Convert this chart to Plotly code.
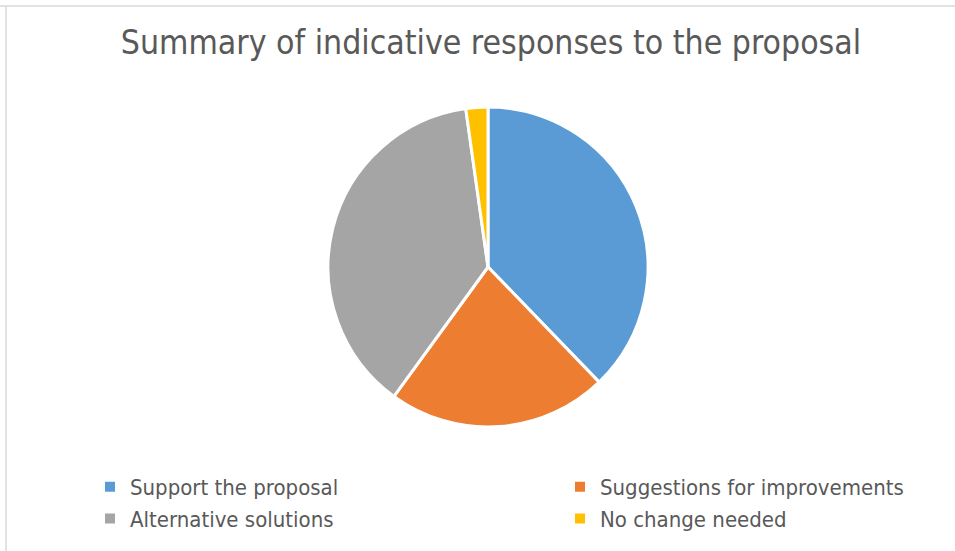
import plotly.graph_objects as go

categories = ["Support the proposal", "Suggestions for improvements", "Alternative solutions", "No change needed"]
values = [17, 10, 17, 1]
colors = ["#5B9BD5", "#ED7D31", "#A5A5A5", "#FFC000"]

W, H = 955, 551
cx, cy, r = 488, 267, 160

fig = go.Figure(go.Pie(
    labels=categories,
    values=values,
    sort=False,
    direction="clockwise",
    rotation=0,
    textinfo="none",
    hoverinfo="label+value+percent",
    marker=dict(colors=colors, line=dict(color="white", width=3)),
    domain=dict(x=[(cx - r) / W, (cx + r) / W], y=[(H - cy - r) / H, (H - cy + r) / H]),
))

fig.update_layout(
    width=W, height=H,
    margin=dict(l=0, r=0, t=0, b=0, autoexpand=False),
    paper_bgcolor="white",
    plot_bgcolor="white",
    font=dict(family="DejaVu Sans Condensed, Liberation Sans, sans-serif", color="#595959"),
    title=dict(text="Summary of indicative responses to the proposal",
               x=491 / W, xanchor="center", y=1 - 42 / H, yanchor="middle",
               font=dict(size=33.5, color="#595959")),
    legend=dict(orientation="h", x=90 / W, xanchor="left", y=1 - 466 / H, yanchor="top",
                entrywidth=425, entrywidthmode="pixels",
                font=dict(size=22, color="#595959"),
                itemsizing="constant"),
    shapes=[
        dict(type="line", xref="paper", yref="paper", x0=0, x1=1, y0=1 - 6 / H, y1=1 - 6 / H,
             line=dict(color="#D9D9D9", width=1.5)),
        dict(type="line", xref="paper", yref="paper", x0=6 / W, x1=6 / W, y0=0, y1=1 - 6 / H,
             line=dict(color="#D9D9D9", width=1.5)),
    ],
)

fig.write_html("out.html", config={"displayModeBar": False},
               post_script="document.body.style.margin='0px';")
